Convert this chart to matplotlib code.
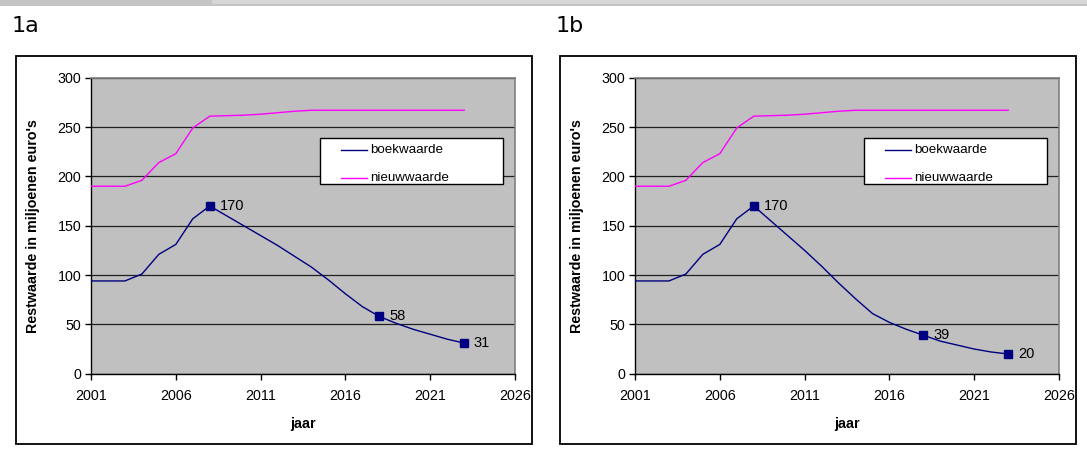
import matplotlib
matplotlib.use("Agg")
import matplotlib.pyplot as plt
from matplotlib.patches import Rectangle

plt.rcParams['font.family'] = ['Liberation Sans', 'DejaVu Sans']

jaren = list(range(2001, 2024))
nieuwwaarde = [190, 190, 190, 196, 214, 223, 249, 261, 261.5, 262, 263, 264.5, 266,
               267, 267, 267, 267, 267, 267, 267, 267, 267, 267]
boek_1a = [94, 94, 94, 101, 121, 131, 157, 170, 160, 150, 140, 130, 119, 108, 95,
           81, 68, 58, 51, 45, 40, 35, 31]
boek_1b = [94, 94, 94, 101, 121, 131, 157, 170, 155, 140, 125, 109, 92, 76, 61,
           52, 45, 39, 33, 29, 25, 22, 20]
label_jaren = [2008, 2018, 2023]
panel_namen = ["1a", "1b"]

fig = plt.figure(figsize=(10.87, 4.59), dpi=100)
W, H = 1087, 459


def fx(px):
    return px / W


def fy(py):
    return 1 - py / H


# grey strip at the very top
fig.patches.append(Rectangle((0, fy(6)), 1, 6 / H, transform=fig.transFigure,
                             facecolor='#c4c4c4', edgecolor='none', zorder=-2))
fig.patches.append(Rectangle((fx(212), fy(4)), 1, 4 / H, transform=fig.transFigure,
                             facecolor='#d6d6d6', edgecolor='none', zorder=-2))

panels = [
    (boek_1a, 16, 91),
    (boek_1b, 560, 635),
]

for i, (boek, frame_x, plot_x) in enumerate(panels):
    # outer chart frame
    fig.patches.append(Rectangle((fx(frame_x), fy(444)), 516 / W, 388 / H,
                                 transform=fig.transFigure, facecolor='white',
                                 edgecolor='black', linewidth=1.3, zorder=-1))
    fig.text(fx(frame_x - 4), fy(26), panel_namen[i], fontsize=16,
             family=['DejaVu Sans'], va='center', ha='left')

    ax = fig.add_axes([fx(plot_x), fy(373.7), 424 / W, 296 / H])
    ax.set_facecolor('#c0c0c0')
    ax.set_xlim(2001, 2026)
    ax.set_ylim(0, 300)
    ax.set_xticks(range(2001, 2027, 5))
    ax.set_yticks(range(0, 301, 50))
    ax.grid(axis='y', color='#202020', linewidth=0.9)
    ax.set_axisbelow(True)
    for s in ['top', 'right']:
        ax.spines[s].set_color('#808080')
        ax.spines[s].set_linewidth(1.2)
    for s in ['left', 'bottom']:
        ax.spines[s].set_color('black')
        ax.spines[s].set_linewidth(1.0)
    ax.tick_params(axis='both', direction='out', length=4, width=1, labelsize=10.3)
    ax.tick_params(axis='x', pad=7)
    ax.tick_params(axis='y', pad=3)

    ax.plot(jaren, nieuwwaarde, color='#ff00ff', linewidth=1.0, zorder=3)
    ax.plot(jaren, boek, color='#000080', linewidth=1.0, zorder=3)
    for j in label_jaren:
        v = boek[jaren.index(j)]
        ax.plot(j, v, marker='s', markersize=6, color='#000080', zorder=4)
        ax.annotate(f"{v:g}", (j, v), xytext=(7, 0), textcoords='offset points',
                    va='center', ha='left', fontsize=10.5)

    ax.set_xlabel('jaar', fontsize=10.3, fontweight='bold')
    ax.set_ylabel("Restwaarde in miljoenen euro's", fontsize=10.3, fontweight='bold')
    ax.xaxis.set_label_coords(0.5, -0.145)
    ax.yaxis.set_label_coords(-0.12, 0.5)

    # legend box
    lx0 = 0.539
    ax.add_patch(Rectangle((lx0, 0.641), 0.433, 0.155, transform=ax.transAxes,
                           facecolor='white', edgecolor='black', linewidth=1.0,
                           zorder=5))
    items = [('boekwaarde', '#000080', 0.757), ('nieuwwaarde', '#ff00ff', 0.66)]
    for naam, kleur, yy in items:
        ax.plot([lx0 + 0.05, lx0 + 0.113], [yy, yy], transform=ax.transAxes,
                color=kleur, linewidth=1.0, zorder=6)
        ax.text(lx0 + 0.12, yy, naam, transform=ax.transAxes, fontsize=9.6,
                va='center', ha='left', zorder=6)

fig.savefig('out.png', dpi=100)
